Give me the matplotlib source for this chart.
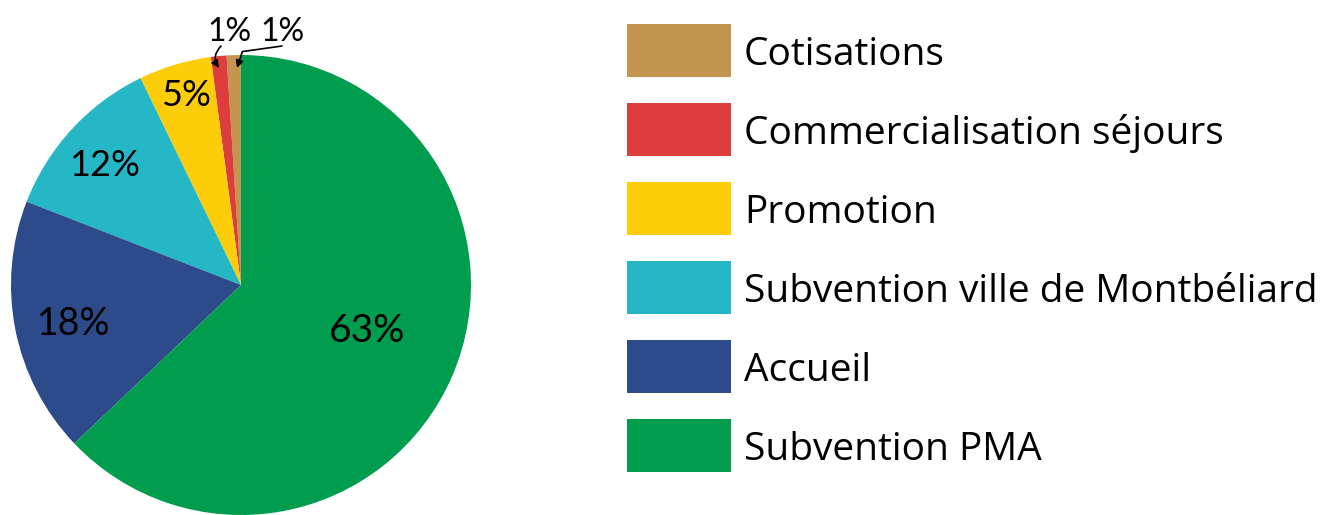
import matplotlib.pyplot as plt
from matplotlib.patches import Rectangle

# ---- data ----
categories = ['Cotisations', 'Commercialisation séjours', 'Promotion',
              'Subvention ville de Montbéliard', 'Accueil', 'Subvention PMA']
values = [1.0, 1.1, 5.1, 11.9, 18.0, 62.9]
pct_labels = ['1%', '1%', '5%', '12%', '18%', '63%']
colors = ['#C3954F', '#DD3E3D', '#FECD0A', '#25B7C5', '#2D4A8A', '#009D4F']

W, H = 1324, 515
fig = plt.figure(figsize=(W / 100, H / 100), dpi=100)

# pie centre (241, 285) px, radius 230 px
cx, cy, r = 241, 285, 230
ax = fig.add_axes([(cx - r) / W, (H - cy - r) / H, 2 * r / W, 2 * r / H])
ax.pie(values, colors=colors, startangle=90, counterclock=True, radius=1,
       wedgeprops=dict(linewidth=0))
ax.set_xlim(-1, 1)
ax.set_ylim(-1, 1)
ax.set_aspect('auto')
ax.axis('off')


def px(x, y):
    # pixel -> pie data coords
    return ((x - cx) / r, (cy - y) / r)


lab_font = ['Lato', 'DejaVu Sans']
# labels inside slices
ax.text(*px(367, 331), pct_labels[5], fontsize=28, ha='center', va='center', family=lab_font)
ax.text(*px(74, 324), pct_labels[4], fontsize=27, ha='center', va='center', family=lab_font)
ax.text(*px(105, 166), pct_labels[3], fontsize=26, ha='center', va='center', family=lab_font)
ax.text(*px(186, 96), pct_labels[2], fontsize=26, ha='center', va='center', family=lab_font)

# small slices with arrows
ax.text(*px(229, 32), pct_labels[1], fontsize=23, ha='center', va='center', family=lab_font, clip_on=False)
ax.text(*px(282, 32), pct_labels[0], fontsize=23, ha='center', va='center', family=lab_font, clip_on=False)
ax.annotate('', xy=px(219, 68), xytext=px(221, 46), annotation_clip=False,
            arrowprops=dict(arrowstyle='-|>', color='black', lw=1.2, mutation_scale=11,
                            connectionstyle='arc3,rad=0.4', shrinkA=0, shrinkB=0))
ax.annotate('', xy=px(237, 68), xytext=px(282, 46), annotation_clip=False,
            arrowprops=dict(arrowstyle='-|>', color='black', lw=1.2, mutation_scale=11,
                            connectionstyle='angle,angleA=-172,angleB=72,rad=0',
                            shrinkA=0, shrinkB=0))

# ---- legend ----
lax = fig.add_axes([0, 0, 1, 1])
lax.set_xlim(0, W)
lax.set_ylim(H, 0)
lax.axis('off')
row0, step = 50, 79
for i, (name, c) in enumerate(zip(categories, colors)):
    yc = row0 + i * step
    lax.add_patch(Rectangle((627, yc - 26.5), 104, 53, color=c, lw=0))
    lax.text(744, yc + 15, name, fontsize=28, ha='left', va='baseline',
             family=['Open Sans', 'DejaVu Sans'])

fig.savefig('out.png', dpi=100)
